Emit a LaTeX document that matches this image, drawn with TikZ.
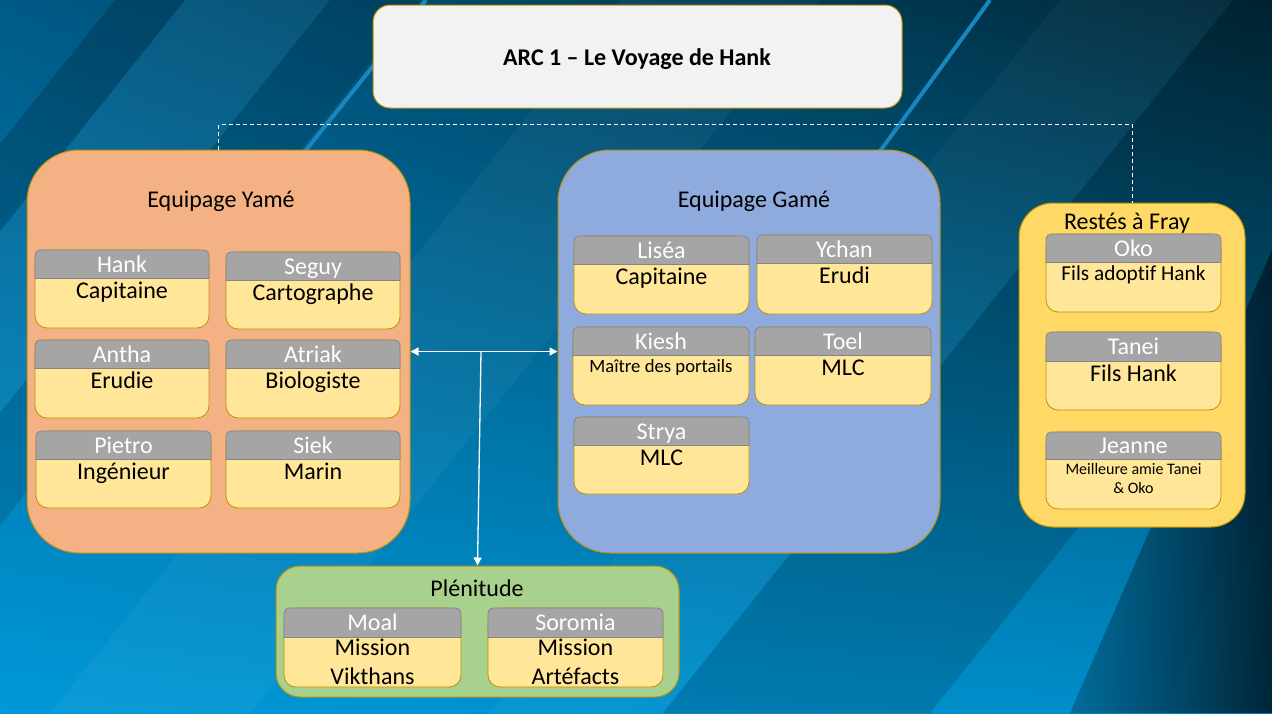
\documentclass[tikz,border=0pt]{standalone}
\usepackage{fontspec}
\setmainfont{Carlito}[Ligatures={NoCommon}]
\usetikzlibrary{arrows.meta,shadings}
\definecolor{gold}{HTML}{BF9000}
\definecolor{yamec}{HTML}{F4B183}
\definecolor{gamec}{HTML}{8FAADC}
\definecolor{restc}{HTML}{FFD966}
\definecolor{plenc}{HTML}{A9D18E}
\definecolor{titlec}{HTML}{F2F2F2}
\definecolor{cardy}{HTML}{FFE699}
\definecolor{headg}{HTML}{A5A5A5}
\definecolor{headb}{HTML}{858585}
\definecolor{bgUL}{HTML}{005A86}
\definecolor{bgUR}{HTML}{002838}
\definecolor{bgLL}{HTML}{0098D8}
\definecolor{bgLR}{HTML}{008CC8}
\definecolor{thinl}{HTML}{1A86C0}
\definecolor{darkc}{HTML}{001C2A}
\definecolor{darkm}{HTML}{006A98}
\newcommand\bgband[3]{\fill[#3] (#1,0) -- (#2,0) -- (#2-570,713) -- (#1-570,713) -- cycle;}
\newcommand\card[9]{%
  \path[cardbody] (#2,#3) rectangle (#4,#5);
  \begin{scope}
    \clip (#2-2,#3-2) rectangle (#4+2,#6);
    \path[cardhead] (#2,#3) rectangle (#4,#6+10);
  \end{scope}
  \draw[headb, line width=0.8pt] (#2,#6) -- (#4,#6);
  \node[headtxt] (#1) at ({(#2+#4)/2},{(#3+#6)/2+8}) {#7};
  \node[#8] (#1b) at ({(#2+#4)/2},#6) {#9};
}
\begin{document}
\begin{tikzpicture}[x=1pt,y=-1pt,
  grp/.style={draw=gold, line width=1pt, inner sep=0pt},
  grptitle/.style={font=\fontsize{24}{29}\selectfont, anchor=base, inner sep=0pt},
  cardbody/.style={draw=gold, fill=cardy, line width=0.8pt, rounded corners=12pt},
  cardhead/.style={draw=headb, fill=headg, line width=0.8pt, rounded corners=5pt},
  headtxt/.style={font=\fontsize{24}{29}\selectfont, text=white, anchor=base, inner sep=0pt},
  btbase/.style={anchor=base, inner sep=0pt},
  bt24/.style={btbase, font=\fontsize{24}{29}\selectfont, yshift=-20pt},
  bt19/.style={btbase, font=\fontsize{18.7}{22}\selectfont, yshift=-17pt},
  bt21/.style={btbase, font=\fontsize{21.3}{26}\selectfont, yshift=-18pt},
  bt16/.style={btbase, font=\fontsize{16}{19}\selectfont, yshift=-15pt},
  bt24m/.style={btbase, font=\fontsize{24}{29}\selectfont, yshift=-18pt},
  wline/.style={draw=white, line width=1.3pt},
  tipend/.style={-{Triangle[length=8pt,width=8pt]}},
  tipboth/.style={{Triangle[length=8pt,width=8pt]}-{Triangle[length=8pt,width=8pt]}},
  dashl/.style={draw=white, line width=0.9pt, dash pattern=on 4pt off 3pt}
]
\useasboundingbox (0,0) rectangle (1272,713);
% background
\shade[upper left=bgUL, upper right=bgUR, lower left=bgLL, lower right=bgLR] (0,0) rectangle (1272,713);
\bgband{115}{185}{black, opacity=0.18}
\bgband{185}{330}{white, opacity=0.04}
\bgband{330}{420}{black, opacity=0.12}
\bgband{620}{820}{white, opacity=0.04}
\bgband{1060}{1233}{white, opacity=0.03}
\bgband{1233}{1500}{black, opacity=0.15}
\shade[left color=darkm, right color=darkc, opacity=0.9] (1070,713) -- (1272,250) -- (1272,713) -- cycle;
\draw[thinl, line width=4pt] (426,0) -- (250,220);
\draw[thinl, line width=4pt] (990,0) -- (870,165);

% title
\node[grp, fill=titlec, rounded corners=17pt, minimum width=529pt, minimum height=103pt] (title) at (637.5,56.5) {};
\node[anchor=base, inner sep=0pt, font=\bfseries\fontsize{24}{29}\selectfont] (titlet) at (637,65) {ARC 1 – Le Voyage de Hank};

% groups
\node[grp, fill=yamec, rounded corners=52pt, minimum width=383pt, minimum height=403pt] (yame) at (218.5,351.5) {};
\node[grp, fill=gamec, rounded corners=52pt, minimum width=382pt, minimum height=403pt] (game) at (749,351.5) {};
\node[grp, fill=restc, rounded corners=34pt, minimum width=226pt, minimum height=324pt] (restes) at (1132,365) {};
\node[grp, fill=plenc, rounded corners=24pt, minimum width=403pt, minimum height=131pt] (plen) at (477.5,631.5) {};

\node[grptitle] (yamet) at (221,207) {Equipage Yamé};
\node[grptitle] (gamet) at (754,207) {Equipage Gamé};
\node[grptitle] (restet) at (1127,229) {Restés à Fray};
\node[grptitle] (plent) at (477,596) {Plénitude};

% connectors
\draw[dashl] (yame.north) -- ++(0,-25) -| (restes.north);
\draw[wline, tipboth] (yame.east) -- (game.west);
\coordinate (junc) at (481,351.5);
\draw[wline, tipend] (junc) -- (plen.north);

% cards Yame
\card{hank}{35}{250}{209}{328}{278}{Hank}{bt24}{Capitaine}
\card{seguy}{226}{252}{400}{329}{280}{Seguy}{bt24}{Cartographe}
\card{antha}{35}{340}{209}{418}{368}{Antha}{bt24}{Erudie}
\card{atriak}{226}{340}{400}{418}{368}{Atriak}{bt24}{Biologiste}
\card{pietro}{36}{431}{211}{508}{459}{Pietro}{bt24}{Ingénieur}
\card{siek}{226}{431}{400}{508}{459}{Siek}{bt24}{Marin}
% cards Game
\card{lisea}{574}{236}{749}{314}{264}{Liséa}{bt24}{Capitaine}
\card{ychan}{757}{235}{932}{314}{263}{Ychan}{bt24}{Erudi}
\card{kiesh}{573}{327}{749}{405}{355}{Kiesh}{bt19}{Maître des portails}
\card{toel}{755}{327}{931}{405}{355}{Toel}{bt24}{MLC}
\card{strya}{574}{417}{749}{494}{445}{Strya}{bt24}{MLC}
% cards Restes
\card{oko}{1046}{234}{1221}{312}{262}{Oko}{bt21}{Fils adoptif Hank}
\card{tanei}{1046}{332}{1221}{410}{361}{Tanei}{bt24}{Fils Hank}
\card{jeanne}{1046}{432}{1221}{509}{459}{Jeanne}{bt16}{\begin{tabular}[t]{@{}c@{}}Meilleure amie Tanei\\\& Oko\end{tabular}}
% cards Plenitude
\card{moal}{284}{608}{461}{687}{637}{Moal}{bt24m}{\begin{tabular}[t]{@{}c@{}}Mission\\Vikthans\end{tabular}}
\card{soromia}{488}{608}{663}{687}{637}{Soromia}{bt24m}{\begin{tabular}[t]{@{}c@{}}Mission\\Artéfacts\end{tabular}}
\end{tikzpicture}
\end{document}
